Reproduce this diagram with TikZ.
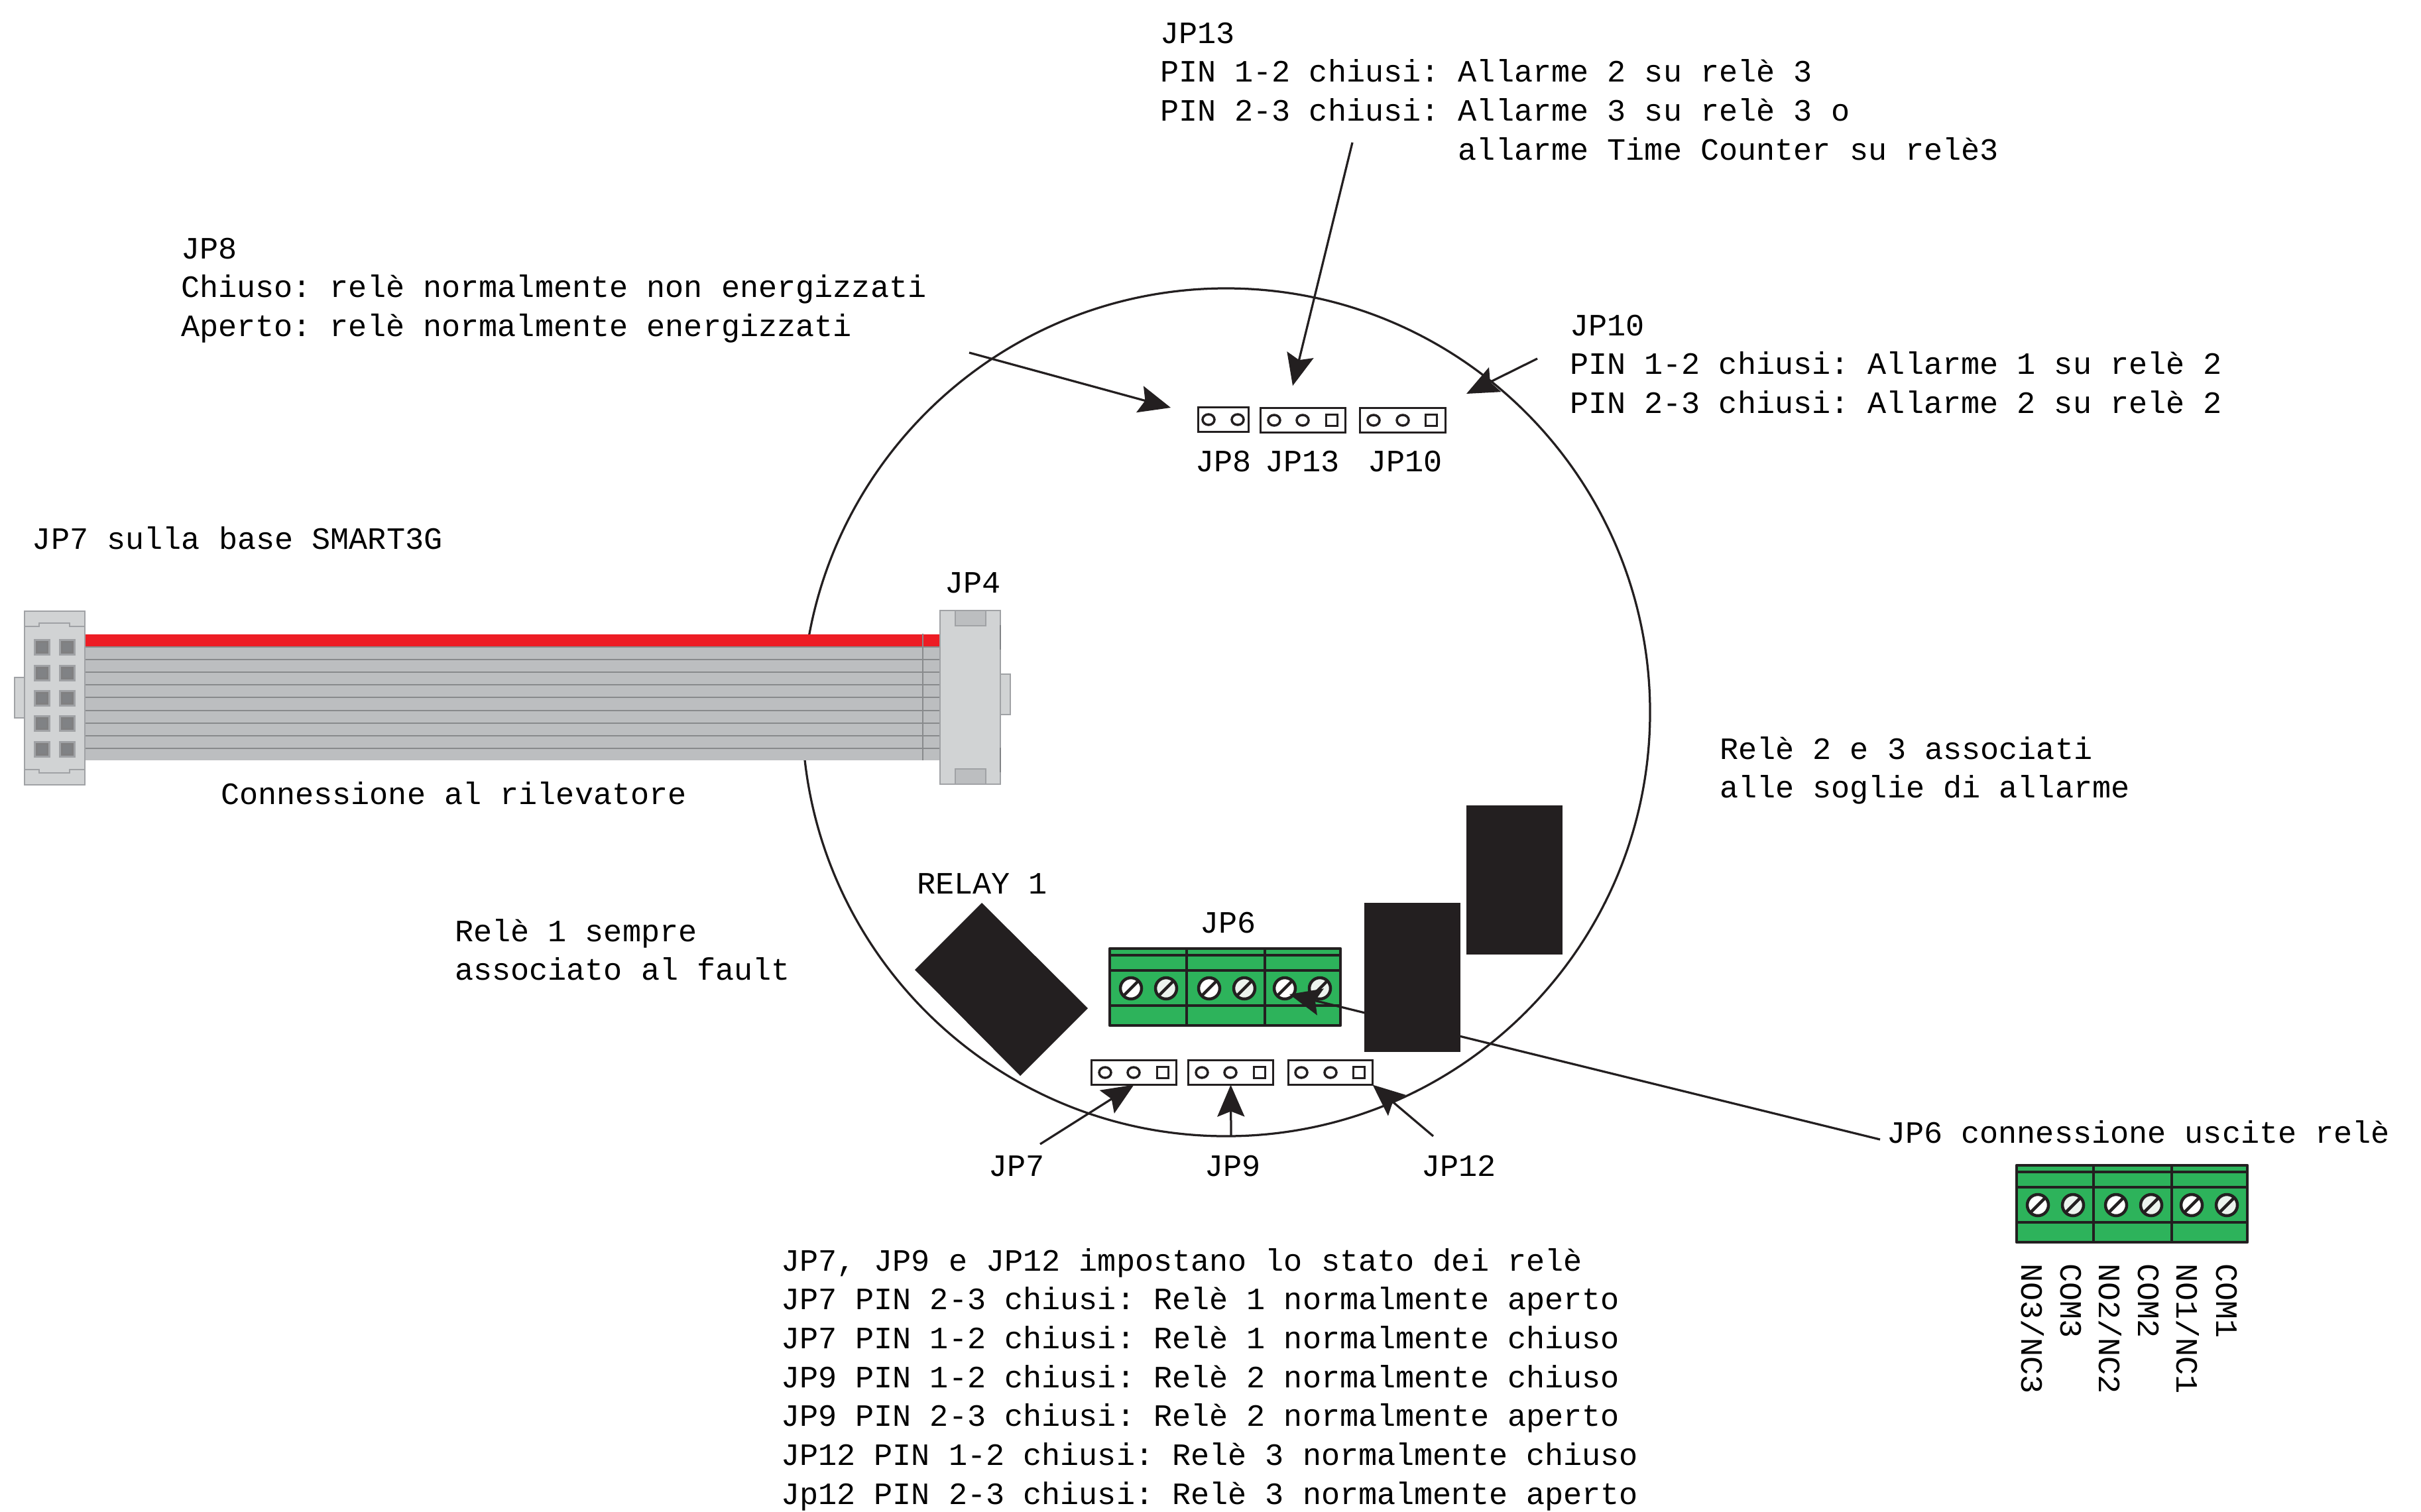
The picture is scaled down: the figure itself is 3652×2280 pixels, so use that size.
\documentclass[tikz,border=0pt]{standalone}
\usepackage{fontspec}
\setmainfont{Liberation Mono}
\usetikzlibrary{arrows.meta}
\definecolor{kblack}{HTML}{231F20}
\definecolor{kgreen}{HTML}{2DB35B}
\definecolor{kscrew}{HTML}{ECF3EE}
\definecolor{klight}{HTML}{D1D3D4}
\definecolor{kmid}{HTML}{BCBEC0}
\definecolor{kedge}{HTML}{A0A2A5}
\definecolor{kdark}{HTML}{808285}
\definecolor{kred}{HTML}{ED1C24}
\tikzset{
  txt/.style={anchor=north west,inner sep=0pt,outer sep=0pt,align=left,text=black,
    font=\fontsize{9.37pt}{11.74pt}\selectfont\frenchspacing},
  rottxt/.style={anchor=west,inner sep=0pt,outer sep=0pt,rotate=-90,text=black,
    font=\fontsize{9.37pt}{11.74pt}\selectfont},
  wire/.style={draw=kblack,line width=.65pt},
  arr/.style={wire,-{Stealth[length=9.6pt,width=8.2pt,inset=1.6pt,kblack]}},
  jump/.style={draw=kblack,line width=.7pt,fill=white,inner sep=0pt,outer sep=0pt,minimum height=7.4pt},
  hole/.style={draw=kblack,line width=.7pt,fill=white},
  term/.style={draw=kblack,line width=.9pt,line join=round},
  conn/.style={draw=kedge,line width=.45pt,fill=klight},
}
\newcommand{\Lbl}[3]{\node[txt] at (#1,#2-42) {\rule{0pt}{8pt}#3};}
\newcommand{\Holes}[3]{%
  \draw[hole] (#1,#3) ellipse (9 and 8);
  \draw[hole] (#2,#3) ellipse (9 and 8);}
\newcommand{\Pin}[2]{%
  \fill[kedge] (#1,#2) rectangle ++(25,25);
  \fill[gray!75!kdark] (#1+3,#2+3) rectangle ++(19,19);
  \fill[kdark] (#1+6,#2+6) rectangle ++(13,13);}
\newcommand{\TermBlock}[2]{%
  \begin{scope}[shift={(#1,#2)}]
    \fill[kgreen] (1674,1431) rectangle (2022,1547);
    \foreach \yy in {1441,1464,1517} \draw[term] (1674,\yy) -- (2022,\yy);
    \foreach \xx in {1790,1908} \draw[term] (\xx,1431) -- (\xx,1547);
    \draw[term] (1674,1431) rectangle (2022,1547);
    \foreach \xx/\cc in {1706/white,1759/kscrew,1824/white,1877/kscrew,1938/white,1991/kscrew}{
      \draw[term,fill=\cc] (\xx,1491) circle (16);
      \draw[term] (\xx-11,1502) -- (\xx+11,1480);
    }
  \end{scope}}
\begin{document}
\begin{tikzpicture}[x=0.2pt,y=-0.2pt]
\useasboundingbox (0,0) rectangle (3652,2280);

% board outline
\node[draw=kblack,line width=.65pt,circle,minimum size=255.8pt,inner sep=0pt,outer sep=0pt] (board) at (1849.5,1074.5) {};

% ribbon
\fill[kmid] (128,976) rectangle (1418,1147);
\fill[kred] (128,957) rectangle (1418,975);
\foreach \yy in {976,995,1014,1033,1052,1072,1091,1110,1129}
  \draw[kedge!85!black,line width=.4pt] (128,\yy) -- (1418,\yy);
\draw[kedge!85!black,line width=.35pt] (1392,956) -- (1392,1147);

% left connector
\draw[conn] (22,1022) rectangle (37,1083);
\draw[conn] (37,922) rectangle (128,1184);
\draw[kedge,line width=.4pt] (37,945) -- (59,945) -- (59,940) -- (105,940) -- (105,945) -- (128,945);
\draw[kedge,line width=.4pt] (37,1161) -- (59,1161) -- (59,1166) -- (105,1166) -- (105,1161) -- (128,1161);
\foreach \yy in {964,1003,1041,1079,1118}{
  \Pin{51}{\yy}
  \Pin{89}{\yy}
}

% right connector
\draw[conn] (1509,1017) rectangle (1524,1078);
\draw[conn] (1418,921) rectangle (1509,1183);
\draw[conn,fill=kmid] (1441,921) rectangle (1487,944);
\draw[conn,fill=kmid] (1441,1160) rectangle (1487,1183);
\draw[kdark,line width=.4pt] (1509,943) -- (1509,980) (1509,1128) -- (1509,1165);

% relays
\fill[kblack] (2212,1215) rectangle (2357,1440);
\fill[kblack] (2058,1362) rectangle (2203,1587);
\fill[kblack] (1481,1362) -- (1641,1521) -- (1539,1623) -- (1380,1463) -- cycle;

% terminal blocks
\TermBlock{0}{0}
\TermBlock{1368}{327}

% jumpers
\node[jump,minimum width=15.2pt] (jp8) at (1845.5,633) {};
\Holes{1823}{1867}{633}
\node[jump,minimum width=25.6pt] (jp13) at (1965.5,634) {};
\Holes{1922}{1965}{634}
\draw[hole] (2000.5,625.5) rectangle ++(17,17);
\node[jump,minimum width=25.8pt] (jp10) at (2116,634) {};
\Holes{2072}{2116}{634}
\draw[hole] (2150.5,625.5) rectangle ++(17,17);
\node[jump,minimum width=25.6pt] (jp7) at (1710.5,1618) {};
\Holes{1667}{1710}{1618}
\draw[hole] (1745.5,1609.5) rectangle ++(17,17);
\node[jump,minimum width=25.6pt] (jp9) at (1856.5,1618) {};
\Holes{1813}{1856}{1618}
\draw[hole] (1891.5,1609.5) rectangle ++(17,17);
\node[jump,minimum width=25.4pt] (jp12) at (2007,1618) {};
\Holes{1963}{2007}{1618}
\draw[hole] (2041.5,1609.5) rectangle ++(17,17);

% connector ends
\coordinate (c13a) at (2040,215);
\coordinate (c13b) at (1950,582);
\coordinate (c8a) at (1462,532);
\coordinate (c8b) at (1766,615);
\coordinate (c10a) at (2319,541);
\coordinate (c10b) at (2212,594);
\coordinate (c7a) at (1569,1726);
\coordinate (c9a) at (1857,1713);
\coordinate (c12a) at (2162,1714);
\coordinate (c6a) at (2836,1719);
\coordinate (c6b) at (1945,1500);

\draw[arr] (c13a) -- (c13b);
\draw[arr] (c8a) -- (c8b);
\draw[arr] (c10a) -- (c10b);
\draw[arr] (c7a) -- (jp7.south);
\draw[arr] (c9a) -- (jp9.south);
\draw[arr] (c12a) -- (jp12.south east);
\draw[arr] (c6a) -- (c6b);

% texts
\Lbl{1750}{67}{JP13\\PIN 1-2 chiusi: Allarme 2 su relè 3\\PIN 2-3 chiusi: Allarme 3 su relè 3 o\\\phantom{PIN 2-3 chiusi: }allarme Time Counter su relè3}
\Lbl{273}{392}{JP8\\Chiuso: relè normalmente non energizzati\\Aperto: relè normalmente energizzati}
\Lbl{2368}{508}{JP10\\PIN 1-2 chiusi: Allarme 1 su relè 2\\PIN 2-3 chiusi: Allarme 2 su relè 2}
\Lbl{49}{830}{JP7 sulla base SMART3G}
\Lbl{1425}{896}{JP4}
\Lbl{333}{1215}{Connessione al rilevatore}
\Lbl{2594}{1147}{Relè 2 e 3 associati\\alle soglie di allarme}
\Lbl{1383}{1350}{RELAY 1}
\Lbl{1810}{1409}{JP6}
\Lbl{686}{1422}{Relè 1 sempre\\associato al fault}
\Lbl{1803}{713}{JP8}
\Lbl{1908}{713}{JP13}
\Lbl{2063}{713}{JP10}
\Lbl{1491}{1776}{JP7}
\Lbl{1817}{1776}{JP9}
\Lbl{2144}{1776}{JP12}
\Lbl{2846}{1726}{JP6 connessione uscite relè}
\Lbl{1178}{1919}{JP7, JP9 e JP12 impostano lo stato dei relè\\JP7 PIN 2-3 chiusi: Relè 1 normalmente aperto\\JP7 PIN 1-2 chiusi: Relè 1 normalmente chiuso\\JP9 PIN 1-2 chiusi: Relè 2 normalmente chiuso\\JP9 PIN 2-3 chiusi: Relè 2 normalmente aperto\\JP12 PIN 1-2 chiusi: Relè 3 normalmente chiuso\\Jp12 PIN 2-3 chiusi: Relè 3 normalmente aperto}

\node[rottxt] at (3066,1906) {NO3/NC3};
\node[rottxt] at (3124,1906) {COM3};
\node[rottxt] at (3183,1906) {NO2/NC2};
\node[rottxt] at (3241,1906) {COM2};
\node[rottxt] at (3300,1906) {NO1/NC1};
\node[rottxt] at (3359,1906) {COM1};
\end{tikzpicture}
\end{document}
